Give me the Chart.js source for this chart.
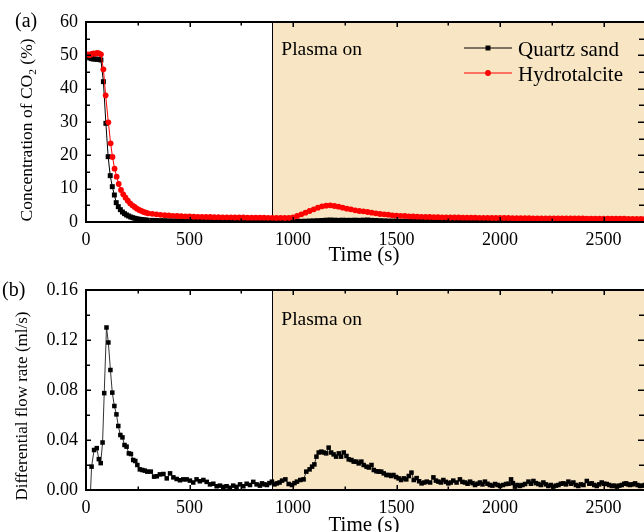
<!DOCTYPE html>
<html>
<head>
<meta charset="utf-8">
<script src="https://cdn.jsdelivr.net/npm/chart.js@4"></script>
<style>
	html, body { margin: 0; padding: 0; background: #fff; overflow: hidden; }
	#wrap { position: relative; width: 644px; height: 532px; overflow: hidden; }
	canvas { position: absolute; left: 0; }
</style>
</head>
<body>
<div id="wrap">
	<canvas id="chartA" width="649" height="266" style="top:0"></canvas>
	<canvas id="chartB" width="649" height="266" style="top:266px"></canvas>
</div>
<script>
const serif = "'Liberation Serif', 'Times New Roman', serif";
const plasmaFill = "#f8e5c3";
const plasmaStart = 900;

// (a) CO2 concentration, first 300 s read point by point
const quartzTimeEarly = [0, 9, 18, 27, 36, 45, 54, 63, 72, 84, 96, 107, 117, 127, 137, 146, 156,
	166, 176, 186, 196, 206, 216, 226, 236, 246, 256, 266, 276, 286, 296];
const quartzEarly = [50.0, 49.6, 49.2, 49.0, 48.9, 48.9, 48.8, 48.8, 48.6, 42.1, 29.6, 19.6, 13.9, 10.6, 8.1, 5.8, 4.6,
	3.7, 3.0, 2.5, 2.1, 1.8, 1.5, 1.3, 1.1, 0.95, 0.85, 0.75, 0.65, 0.6, 0.55];

const hydroTimeEarly = [0, 9, 18, 27, 36, 45, 54, 63, 72, 84, 95, 108, 119, 128, 138, 148, 158,
	169, 180, 191, 202, 213, 224, 235, 246, 257, 268, 279, 290, 300];
const hydroEarly = [50.2, 50.3, 50.1, 50.4, 50.6, 50.5, 50.7, 50.6, 50.3, 45.8, 38.0, 29.9, 23.6, 19.5, 16.0, 13.6, 11.4,
	9.6, 8.3, 7.3, 6.4, 5.6, 5.0, 4.5, 4.0, 3.6, 3.3, 3.0, 2.8, 2.6];

// tail of (a), every 20 s
const tailTime = [
	320, 340, 360, 380, 400, 420, 440, 460, 480, 500,
	520, 540, 560, 580, 600, 620, 640, 660, 680, 700,
	720, 740, 760, 780, 800, 820, 840, 860, 880, 900,
	920, 940, 960, 980, 1000, 1020, 1040, 1060, 1080, 1100,
	1120, 1140, 1160, 1180, 1200, 1220, 1240, 1260, 1280, 1300,
	1320, 1340, 1360, 1380, 1400, 1420, 1440, 1460, 1480, 1500,
	1520, 1540, 1560, 1580, 1600, 1620, 1640, 1660, 1680, 1700,
	1720, 1740, 1760, 1780, 1800, 1820, 1840, 1860, 1880, 1900,
	1920, 1940, 1960, 1980, 2000, 2020, 2040, 2060, 2080, 2100,
	2120, 2140, 2160, 2180, 2200, 2220, 2240, 2260, 2280, 2300,
	2320, 2340, 2360, 2380, 2400, 2420, 2440, 2460, 2480, 2500,
	2520, 2540, 2560, 2580, 2600, 2620, 2640, 2660, 2680, 2700];
const quartzTail = [
	0.5, 0.45, 0.42, 0.4, 0.37, 0.35, 0.33, 0.31, 0.3, 0.28,
	0.27, 0.26, 0.25, 0.24, 0.23, 0.22, 0.22, 0.21, 0.2, 0.2,
	0.2, 0.19, 0.19, 0.18, 0.18, 0.18, 0.17, 0.17, 0.17, 0.16,
	0.16, 0.16, 0.17, 0.17, 0.18, 0.2, 0.22, 0.25, 0.3, 0.35,
	0.4, 0.45, 0.55, 0.6, 0.55, 0.5, 0.55, 0.5, 0.5, 0.55,
	0.5, 0.55, 0.6, 0.5, 0.45, 0.4, 0.35, 0.3, 0.28, 0.25,
	0.24, 0.23, 0.22, 0.22, 0.21, 0.2, 0.2, 0.2, 0.19, 0.19,
	0.19, 0.18, 0.18, 0.18, 0.18, 0.17, 0.17, 0.17, 0.17, 0.17,
	0.16, 0.16, 0.16, 0.16, 0.16, 0.16, 0.15, 0.15, 0.15, 0.15,
	0.15, 0.15, 0.15, 0.15, 0.14, 0.14, 0.14, 0.14, 0.14, 0.14,
	0.14, 0.14, 0.14, 0.13, 0.13, 0.13, 0.13, 0.13, 0.13, 0.13,
	0.13, 0.13, 0.13, 0.13, 0.12, 0.12, 0.12, 0.12, 0.12, 0.12];
const hydroTail = [
	2.45, 2.3, 2.15, 2.05, 1.95, 1.85, 1.8, 1.75, 1.7, 1.65,
	1.6, 1.55, 1.55, 1.5, 1.5, 1.45, 1.45, 1.4, 1.4, 1.4,
	1.35, 1.35, 1.35, 1.3, 1.3, 1.3, 1.3, 1.3, 1.25, 1.25,
	1.2, 1.25, 1.2, 1.25, 1.4, 1.8, 2.3, 2.8, 3.3, 3.8,
	4.3, 4.7, 4.9, 5.0, 4.8, 4.6, 4.3, 4.0, 3.8, 3.5,
	3.3, 3.2, 3.0, 2.8, 2.6, 2.4, 2.3, 2.2, 2.0, 1.9,
	1.85, 1.8, 1.7, 1.65, 1.6, 1.55, 1.5, 1.5, 1.45, 1.45,
	1.4, 1.4, 1.35, 1.35, 1.35, 1.3, 1.3, 1.3, 1.3, 1.25,
	1.25, 1.25, 1.2, 1.2, 1.2, 1.2, 1.2, 1.15, 1.15, 1.15,
	1.15, 1.15, 1.1, 1.1, 1.1, 1.1, 1.1, 1.1, 1.1, 1.05,
	1.05, 1.05, 1.05, 1.05, 1.05, 1.0, 1.0, 1.0, 1.0, 1.0,
	1.0, 1.0, 1.0, 1.0, 1.0, 0.95, 0.95, 0.95, 0.95, 0.95];

// (b) differential flow rate
const flowTime = [
	17, 27, 39, 52, 62, 71, 80, 88, 99, 108,
	118, 127, 137, 147, 156, 166, 176, 186, 196, 207,
	217, 228, 238, 248, 260, 272, 284, 296, 313, 329,
	342, 357, 374, 390, 406, 422, 438, 454, 470, 486,
	502, 518, 534, 550, 567, 583, 599, 615, 631, 647,
	663, 679, 695, 711, 727, 744, 760, 776, 792, 808,
	824, 840, 850, 862, 874, 886, 898, 910, 922, 935,
	947, 963, 979, 995, 1007, 1019, 1035, 1051, 1064, 1080,
	1092, 1103, 1113, 1124, 1137, 1148, 1160, 1172, 1184, 1196,
	1208, 1221, 1232, 1245, 1258, 1269, 1282, 1293, 1306, 1317,
	1330, 1341, 1355, 1366, 1379, 1390, 1403, 1414, 1426, 1438,
	1451, 1462, 1474, 1485, 1498, 1510, 1522, 1535, 1547, 1559,
	1572, 1583, 1597, 1609, 1621, 1634, 1646, 1662, 1678, 1690,
	1702, 1714, 1726, 1738, 1750, 1762, 1774, 1790, 1806, 1818,
	1831, 1843, 1855, 1867, 1879, 1891, 1903, 1915, 1927, 1939,
	1951, 1963, 1976, 1988, 2000, 2014, 2029, 2041, 2053, 2062,
	2072, 2084, 2096, 2108, 2121, 2137, 2149, 2161, 2173, 2185,
	2197, 2209, 2221, 2233, 2245, 2257, 2270, 2282, 2294, 2306,
	2318, 2330, 2342, 2354, 2366, 2378, 2390, 2403, 2419, 2431,
	2443, 2455, 2467, 2479, 2491, 2503, 2515, 2527, 2540, 2552,
	2564, 2576, 2588, 2600, 2609, 2618, 2628, 2640, 2652, 2664,
	2676, 2688, 2700];
const flowRate = [
	-0.02, 0.0187, 0.032, 0.0335, 0.0247, 0.0215, 0.038, 0.0775, 0.130, 0.118,
	0.096, 0.0779, 0.0672, 0.0605, 0.0512, 0.044, 0.0421, 0.036, 0.0347, 0.0293,
	0.0288, 0.024, 0.0232, 0.020, 0.0165, 0.016, 0.0155, 0.0147, 0.0147, 0.0107,
	0.011, 0.0125, 0.0128, 0.0093, 0.0133, 0.0101, 0.0088, 0.0078, 0.0085, 0.0085,
	0.0075, 0.006, 0.0085, 0.007, 0.008, 0.0065, 0.0045, 0.005, 0.003, 0.0035,
	0.0025, 0.003, 0.0018, 0.0035, 0.0025, 0.0045, 0.003, 0.005, 0.004, 0.0065,
	0.0045, 0.0035, 0.0053, 0.0045, 0.004, 0.0055, 0.0067, 0.0045, 0.0053, 0.006,
	0.0075, 0.0085, 0.0048, 0.004, 0.0055, 0.0067, 0.008, 0.0085, 0.0147, 0.0165,
	0.0187, 0.0205, 0.0267, 0.030, 0.0307, 0.030, 0.0293, 0.0339, 0.030, 0.0285,
	0.0267, 0.0293, 0.0267, 0.030, 0.0272, 0.0245, 0.024, 0.0227, 0.0227, 0.0213,
	0.0227, 0.020, 0.0187, 0.018, 0.020, 0.016, 0.015, 0.0147, 0.0147, 0.0133,
	0.012, 0.012, 0.0112, 0.012, 0.0104, 0.0093, 0.008, 0.0093, 0.0085, 0.0112,
	0.0139, 0.008, 0.0095, 0.007, 0.0053, 0.006, 0.0067, 0.006, 0.0101, 0.0075,
	0.0067, 0.006, 0.008, 0.0065, 0.0053, 0.006, 0.0075, 0.006, 0.0085, 0.0065,
	0.006, 0.005, 0.0067, 0.0055, 0.004, 0.005, 0.006, 0.0045, 0.0067, 0.005,
	0.004, 0.0035, 0.0048, 0.004, 0.0032, 0.004, 0.0048, 0.005, 0.0085, 0.0055,
	0.0027, 0.004, 0.0032, 0.004, 0.0048, 0.0067, 0.005, 0.0072, 0.0055, 0.0048,
	0.004, 0.006, 0.0045, 0.0032, 0.004, 0.0027, 0.0035, 0.004, 0.005, 0.0053,
	0.0045, 0.0067, 0.005, 0.006, 0.004, 0.0032, 0.0045, 0.004, 0.0072, 0.005,
	0.0053, 0.004, 0.0032, 0.0045, 0.006, 0.005, 0.0048, 0.004, 0.0032, 0.0035,
	0.0027, 0.0035, 0.004, 0.005, 0.0053, 0.0045, 0.004, 0.0045, 0.0053, 0.004,
	0.0032, 0.0035, 0.004];

const timeTicks = [0, 500, 1000, 1500, 2000, 2500];
const timeMax = 2700;
const timeMinor = 250;
const tickFont = { family: serif, size: 18 };

function toPoints(times, values) {
	return times.map((t, i) => ({ x: t, y: values[i] }));
}

function drawMarker(ctx, style, x, y, r) {
	ctx.beginPath();
	if (style === 'rect') {
		let h = r * Math.SQRT1_2;
		ctx.rect(x - h, y - h, 2 * h, 2 * h);
	} else {
		ctx.arc(x, y, r, 0, Math.PI * 2);
	}
	ctx.fill();
}

function drawRotatedTitle(ctx, parts, cx, cy, size) {
	ctx.save();
	ctx.translate(cx, cy);
	ctx.rotate(-Math.PI / 2);
	ctx.fillStyle = '#000';
	ctx.textAlign = 'left';
	ctx.textBaseline = 'alphabetic';
	let total = 0;
	parts.forEach(p => {
		ctx.font = (p.sub ? size * 0.65 : size) + 'px ' + serif;
		total += ctx.measureText(p.text).width;
	});
	let pos = -total / 2;
	parts.forEach(p => {
		ctx.font = (p.sub ? size * 0.65 : size) + 'px ' + serif;
		ctx.fillText(p.text, pos, p.sub ? size * 0.22 : 0);
		pos += ctx.measureText(p.text).width;
	});
	ctx.restore();
}

// shading, frame, inward ticks and all the text of one panel
const panelDeco = {
	id: 'panelDeco',
	beforeDatasetsDraw(chart, args, opts) {
		let ctx = chart.ctx;
		let a = chart.chartArea;
		let px = Math.round(chart.scales.x.getPixelForValue(plasmaStart));
		ctx.save();
		ctx.fillStyle = plasmaFill;
		ctx.fillRect(px, a.top, a.right - px, a.bottom - a.top);
		ctx.strokeStyle = '#000';
		ctx.lineWidth = 1;
		ctx.beginPath();
		ctx.moveTo(px + 0.5, a.top);
		ctx.lineTo(px + 0.5, a.bottom);
		ctx.stroke();
		ctx.restore();
	},
	afterDatasetsDraw(chart, args, opts) {
		let ctx = chart.ctx;
		let a = chart.chartArea;
		let x = chart.scales.x;
		let y = chart.scales.y;
		ctx.save();
		ctx.strokeStyle = '#000';
		ctx.lineWidth = 2;
		ctx.beginPath();
		ctx.moveTo(a.left, a.top);
		ctx.lineTo(a.right, a.top);
		ctx.moveTo(a.left, a.bottom);
		ctx.lineTo(a.right, a.bottom);
		ctx.moveTo(a.left, a.top - 1);
		ctx.lineTo(a.left, a.bottom + 1);
		ctx.stroke();

		ctx.lineWidth = 1.5;
		ctx.beginPath();
		for (let i = 0; i * timeMinor <= timeMax; i++) {
			let px = Math.round(x.getPixelForValue(i * timeMinor)) + 0.25;
			let len = i % 2 === 0 ? 5 : 3.5;
			ctx.moveTo(px, a.bottom);
			ctx.lineTo(px, a.bottom - len);
			ctx.moveTo(px, a.top);
			ctx.lineTo(px, a.top + len);
		}
		for (let i = 0; i * opts.yMinor <= y.max + 1e-9; i++) {
			let py = Math.round(y.getPixelForValue(i * opts.yMinor)) + 0.25;
			let len = i % 2 === 0 ? 5 : 4;
			ctx.moveTo(a.left, py);
			ctx.lineTo(a.left + len, py);
			ctx.moveTo(a.right, py);
			ctx.lineTo(a.right - len - 2, py);
		}
		ctx.stroke();

		ctx.fillStyle = '#000';
		ctx.textAlign = 'left';
		ctx.textBaseline = 'alphabetic';
		ctx.font = '20px ' + serif;
		ctx.fillText(opts.panel, opts.panelX, opts.panelY);
		ctx.font = '19.5px ' + serif;
		ctx.fillText('Plasma on', x.getPixelForValue(plasmaStart) + 9, opts.plasmaY);
		ctx.textAlign = 'center';
		ctx.font = '21px ' + serif;
		ctx.fillText('Time (s)', 364, opts.xTitleY);
		drawRotatedTitle(ctx, opts.yTitle, opts.yTitleX, (a.top + a.bottom) / 2 + opts.yTitleShift, opts.yTitleSize);

		// legend rows built from the datasets
		if (opts.legend) {
			ctx.textAlign = 'left';
			ctx.font = '21px ' + serif;
			chart.data.datasets.forEach((ds, i) => {
				let ly = opts.legend.y + i * opts.legend.gap;
				ctx.strokeStyle = ds.borderColor;
				ctx.lineWidth = 1;
				ctx.beginPath();
				ctx.moveTo(opts.legend.x, ly);
				ctx.lineTo(opts.legend.x + 48, ly);
				ctx.stroke();
				ctx.fillStyle = ds.pointBackgroundColor;
				drawMarker(ctx, ds.pointStyle, opts.legend.x + 24, ly, ds.pointRadius);
				ctx.fillStyle = '#000';
				ctx.fillText(ds.label, opts.legend.x + 54, ly + 7.5);
			});
		}
		ctx.restore();
	}
};

// outer padding of 4 is kept at least as big as the point overflow Chart.js reserves
function makeChart(id, datasets, cfg) {
	return new Chart(document.getElementById(id), {
		type: 'line',
		data: { datasets: datasets },
		options: {
			responsive: false,
			animation: false,
			layout: { padding: { top: cfg.top, right: 4, bottom: 4, left: 4 } },
			plugins: {
				legend: { display: false },
				tooltip: { enabled: false },
				panelDeco: cfg.deco
			},
			scales: {
				x: {
					type: 'linear',
					min: 0,
					max: timeMax,
					afterBuildTicks: s => { s.ticks = timeTicks.map(v => ({ value: v })); },
					afterFit: s => { s.height = cfg.xHeight; s.paddingRight = 0; },
					grid: { display: false, drawTicks: false },
					border: { display: false },
					ticks: { maxRotation: 0, autoSkip: false, color: '#000', font: tickFont, padding: cfg.xPad, callback: v => String(v) }
				},
				y: {
					min: 0,
					max: cfg.yMax,
					afterFit: s => { s.width = 82; },
					grid: { display: false, drawTicks: false },
					border: { display: false },
					ticks: { stepSize: cfg.yStep, includeBounds: false, color: '#000', font: tickFont, padding: 8, callback: cfg.yFormat }
				}
			}
		},
		plugins: [panelDeco]
	});
}

makeChart('chartA', [
	{
		label: 'Quartz sand',
		data: toPoints(quartzTimeEarly.concat(tailTime), quartzEarly.concat(quartzTail)),
		borderColor: '#000',
		borderWidth: 1,
		pointStyle: 'rect',
		pointRadius: 3.5,
		pointBackgroundColor: '#000',
		pointBorderWidth: 0,
		order: 2
	},
	{
		label: 'Hydrotalcite',
		data: toPoints(hydroTimeEarly.concat(tailTime), hydroEarly.concat(hydroTail)),
		borderColor: '#ff0000',
		borderWidth: 1,
		pointStyle: 'circle',
		pointRadius: 2.9,
		pointBackgroundColor: '#ff0000',
		pointBorderWidth: 0,
		order: 1
	}
], {
	top: 22,
	xHeight: 40,
	xPad: 7,
	yMax: 60,
	yStep: 10,
	yFormat: v => v,
	deco: {
		panel: '(a)', panelX: 15, panelY: 27,
		plasmaY: 55,
		xTitleY: 261,
		yMinor: 5,
		yTitle: [{ text: 'Concentration of CO' }, { text: '2', sub: true }, { text: ' (%)' }],
		yTitleX: 32, yTitleShift: 8, yTitleSize: 17.5,
		legend: { x: 464, y: 48, gap: 25 }
	}
});

makeChart('chartB', [
	{
		label: 'Differential flow rate',
		data: toPoints(flowTime, flowRate),
		borderColor: '#333',
		borderWidth: 1,
		pointStyle: 'rect',
		pointRadius: 3.2,
		pointBackgroundColor: '#000',
		pointBorderWidth: 0
	}
], {
	top: 24,
	xHeight: 38,
	xPad: 7,
	yMax: 0.16,
	yStep: 0.04,
	yFormat: v => v.toFixed(2),
	deco: {
		panel: '(b)', panelX: 2, panelY: 30,
		plasmaY: 59,
		xTitleY: 265,
		yMinor: 0.02,
		yTitle: [{ text: 'Differential flow rate (ml/s)' }],
		yTitleX: 26.5, yTitleShift: 16, yTitleSize: 17
	}
});
</script>
</body>
</html>
